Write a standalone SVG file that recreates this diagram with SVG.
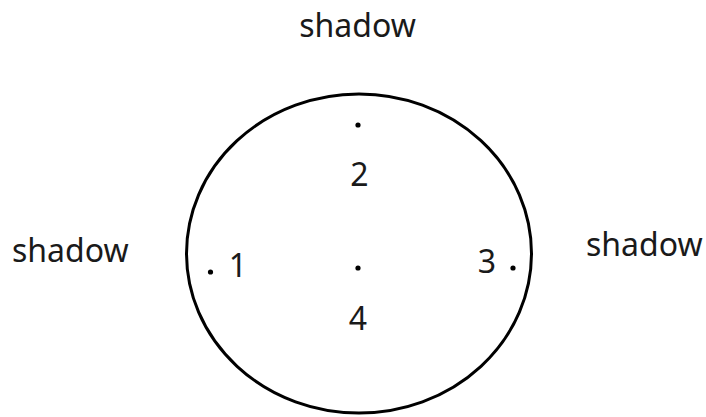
<svg xmlns="http://www.w3.org/2000/svg" width="706" height="417" viewBox="0 0 706 417">
<style>
text{font-family:"Noto Sans","Liberation Sans",sans-serif;font-size:32px;fill:#1a1a1a}
.m{text-anchor:middle}
.dot{fill:#000}
</style>
<rect width="706" height="417" fill="#fff"/>
<g id="circle">
<ellipse cx="359" cy="253.5" rx="172.5" ry="159.5" fill="none" stroke="#000" stroke-width="3"/>
</g>
<g id="p2"><circle class="dot" cx="358" cy="125" r="2.6"/><text class="m" x="359.5" y="186">2</text></g>
<g id="p1"><circle class="dot" cx="210.5" cy="272" r="2.6"/><text class="m" x="238" y="277">1</text></g>
<g id="p4"><circle class="dot" cx="358" cy="268" r="2.6"/><text class="m" x="358" y="330">4</text></g>
<g id="p3"><circle class="dot" cx="513" cy="268" r="2.6"/><text class="m" x="487" y="273">3</text></g>
<g id="shadow-top"><text class="m" x="357.5" y="37">shadow</text></g>
<g id="shadow-left"><text x="12" y="262">shadow</text></g>
<g id="shadow-right"><text x="586" y="256">shadow</text></g>
<g id="connectors"/>
</svg>
